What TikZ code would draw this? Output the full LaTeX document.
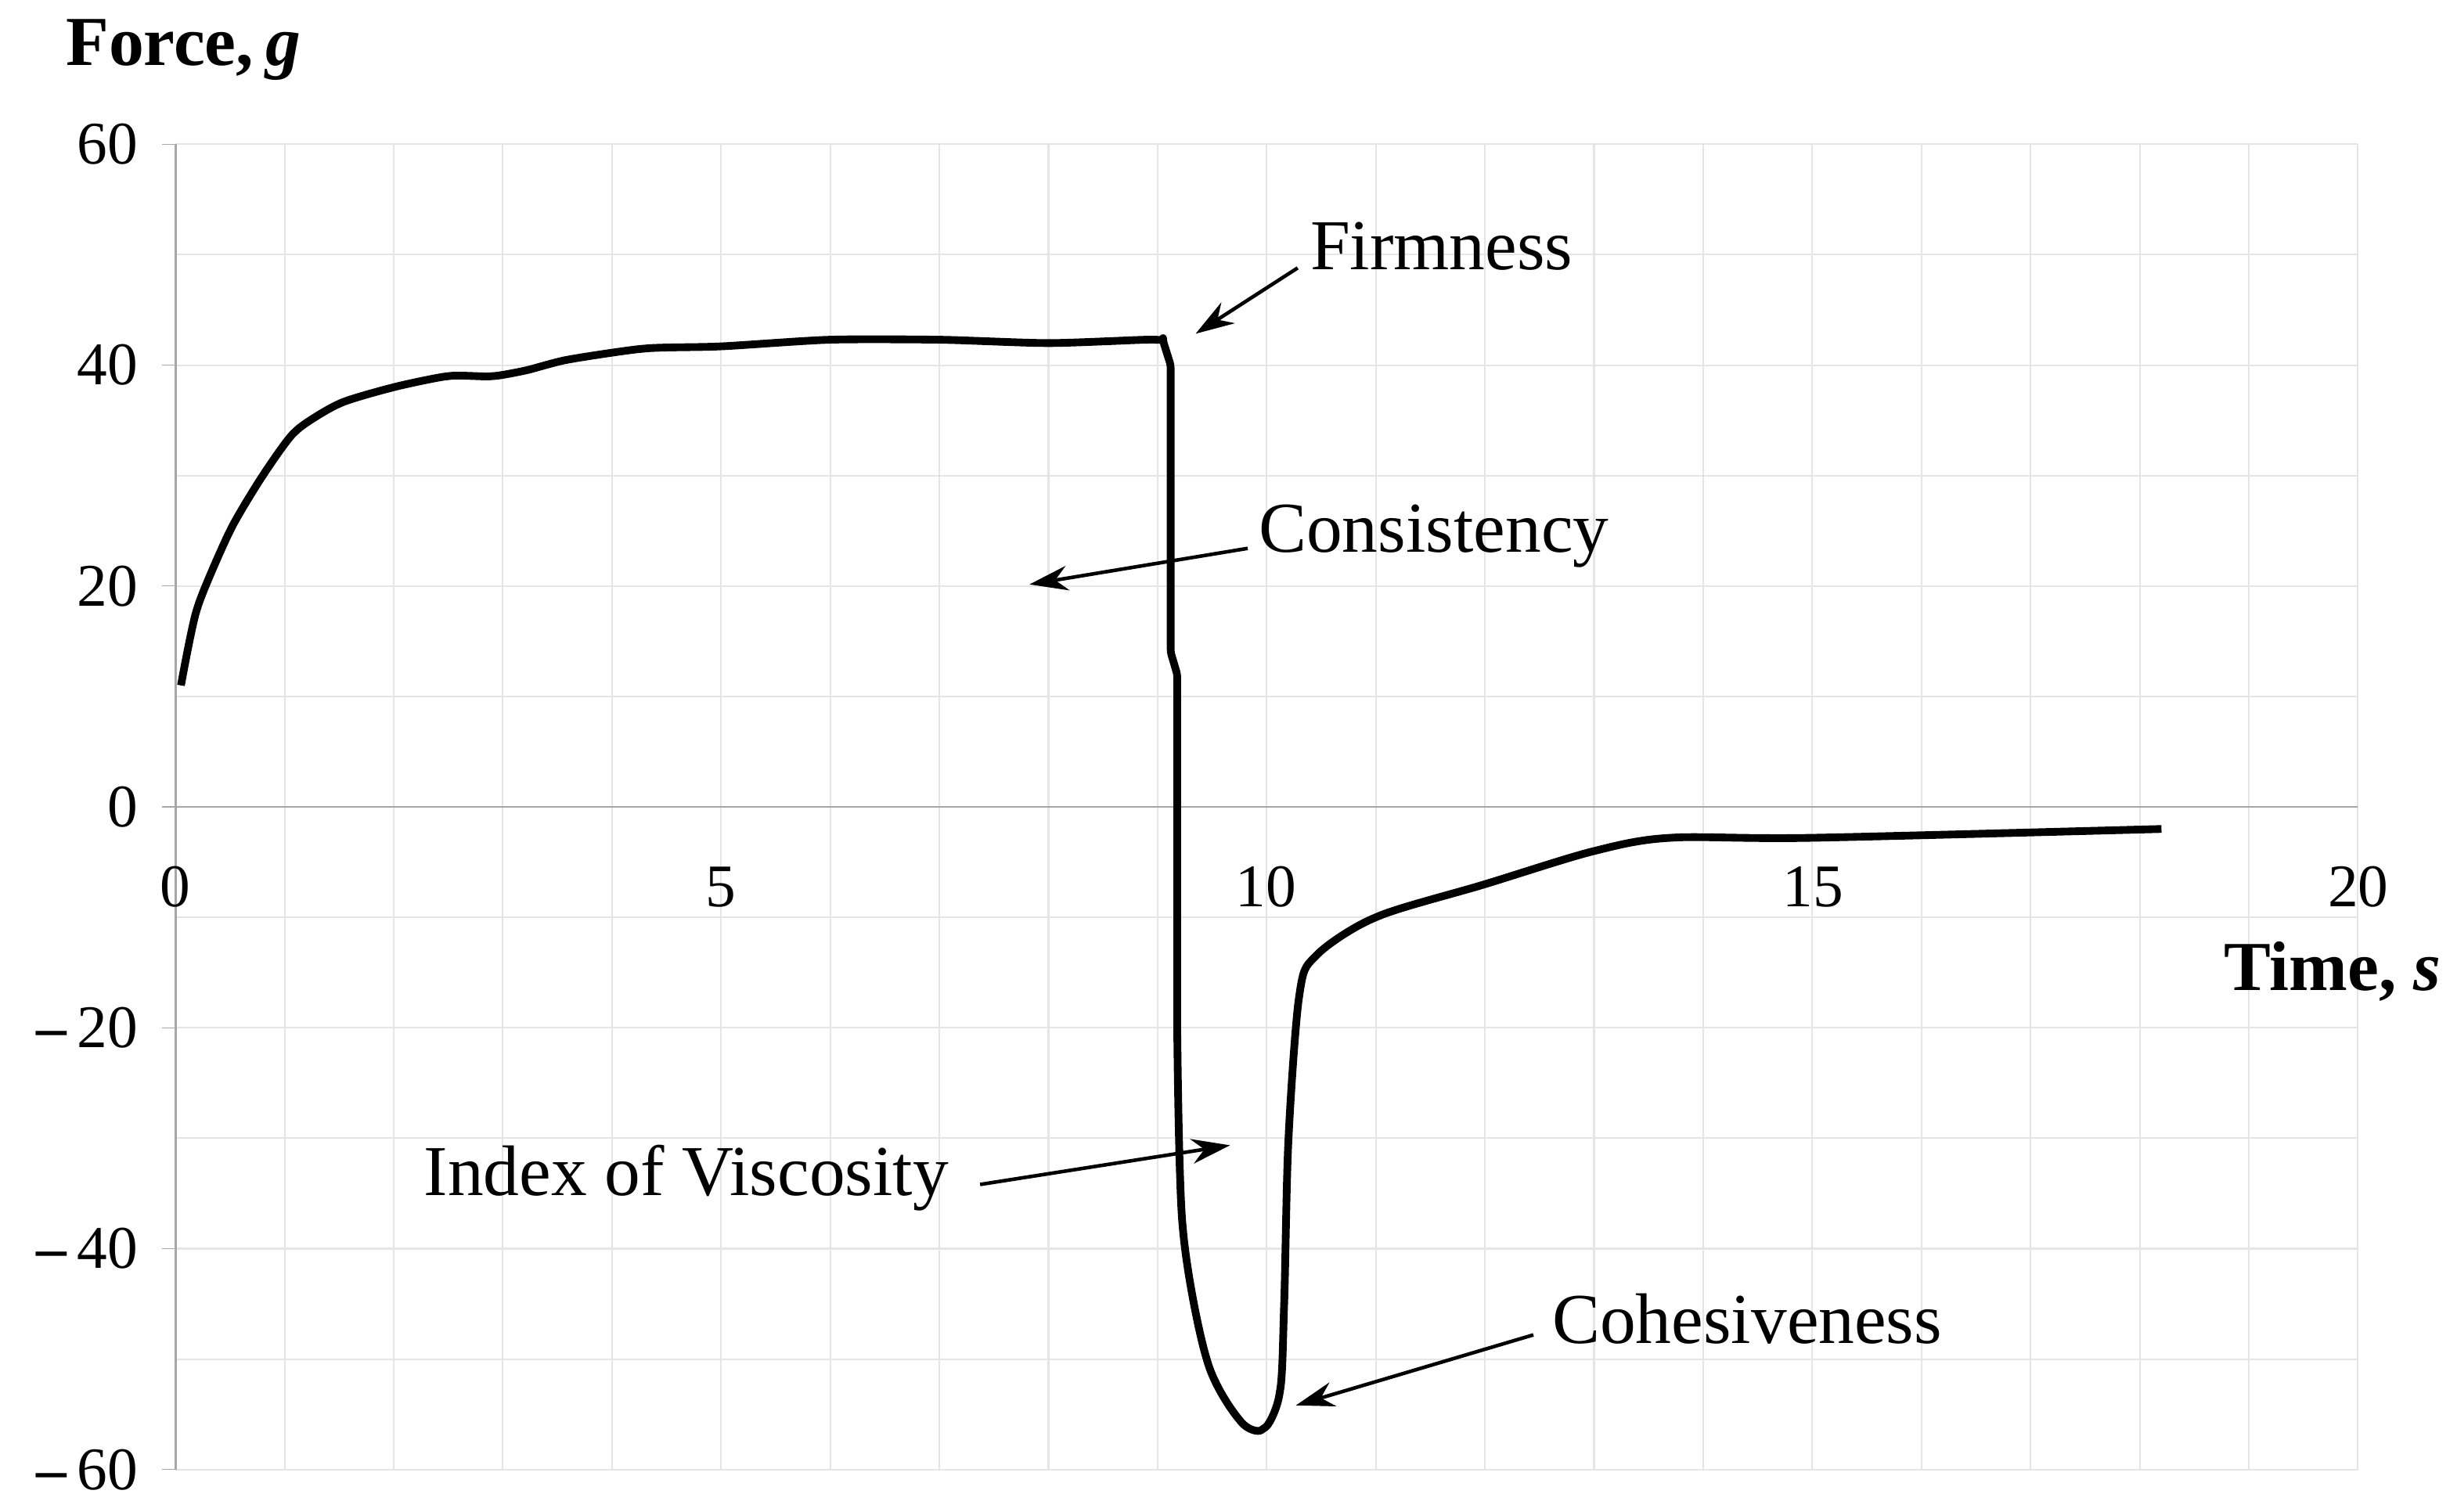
\documentclass[tikz,border=0pt]{standalone}
\usepackage{fontspec}
\setmainfont{Liberation Serif}
\usetikzlibrary{arrows.meta}
\begin{document}
\begin{tikzpicture}[x=0.02cm,y=-0.02cm,
  lbl/.style={font=\fontsize{26}{30}\selectfont,inner sep=1pt},
  tick/.style={font=\fontsize{22}{26}\selectfont,inner sep=1pt},
  ttl/.style={font=\fontsize{25.5}{30}\selectfont\bfseries,inner sep=1pt},
  arr/.style={-{Stealth[length=14pt,width=9pt]},line width=1.3pt}]
\useasboundingbox (0,0) rectangle (1568,965);
\begin{scope}[shift={(112,515)},x=1.393cm,y=0.141cm]
  \foreach \i in {1,...,20} \draw[black!10,line width=0.6pt] (\i,-60) -- (\i,60);
  \foreach \j in {-60,-50,...,60} \draw[black!10,line width=0.6pt] (0,\j) -- (20,\j);
  \draw[black!35,line width=0.8pt] (0,-60) -- (0,60);
  \draw[black!35,line width=0.8pt] (0,0) -- (20,0);
  \foreach \j in {-60,-40,...,60} \draw[black!35] (-0.12,\j) -- (0,\j);
  \draw[line width=2.8pt,line join=round,rounded corners=1pt] plot[smooth,tension=0.4] coordinates {
  (0.05,11) (0.2,18) (0.5,25) (0.8,30) (1.1,34) (1.5,36.5) (2,38) (2.5,39) (2.9,39)
  (3.2,39.5) (3.6,40.5) (4.3,41.5) (5,41.7) (6,42.3) (7,42.3) (8,42) (8.9,42.3) (9.05,42.2)}
  -- (9.12,40) -- (9.12,14) -- (9.18,12) -- (9.18,-20)
  plot[smooth,tension=0.5] coordinates {(9.18,-20) (9.23,-38) (9.45,-50) (9.75,-55.5) (9.97,-56.3) (10.12,-53) (10.16,-45) (10.2,-30) (10.3,-17) (10.45,-13.5) (11,-10) (12,-7) (13,-4) (13.7,-2.8) (15,-2.8) (18.2,-2)};
\end{scope}
% tick labels
\node[tick,anchor=east] (y60) at (90,92) {60};
\node[tick,anchor=east] (y40) at (90,233) {40};
\node[tick,anchor=east] (y20) at (90,374) {20};
\node[tick,anchor=east] (y0) at (90,515) {0};
\node[tick,anchor=east] (ym20) at (90,656) {\textbf{–}\,20};
\node[tick,anchor=east] (ym40) at (90,797) {\textbf{–}\,40};
\node[tick,anchor=east] (ym60) at (90,938) {\textbf{–}\,60};
\node[tick] (x0) at (112,566) {0};
\node[tick] (x5) at (460,566) {5};
\node[tick] (x10) at (808,566) {10};
\node[tick] (x15) at (1157,566) {15};
\node[tick] (x20) at (1505,566) {20};
\node[ttl,anchor=west] (fy) at (40,32) {Force,\,\textit{g}};
\node[ttl,anchor=east] (tx) at (1560,620) {Time, \textit{s}};
% annotations
\node[lbl] (firm) at (920,157) {Firmness};
\coordinate (firmT) at (763,213);
\draw[arr] (firm.west) ++(-6,14) -- (firmT);
\node[lbl] (cons) at (915,342) {Consistency};
\coordinate (consT) at (657,373);
\draw[arr] (cons.west) ++(-5,8) -- (consT);
\node[lbl] (vis) at (438,752) {Index of Viscosity};
\coordinate (visT) at (785,731);
\draw[arr] (vis.east) ++(18,4) -- (visT);
\node[lbl] (coh) at (1115,842) {Cohesiveness};
\coordinate (cohT) at (827,897);
\draw[arr] (coh.west) ++(-10,10) -- (cohT);
\end{tikzpicture}
\end{document}
